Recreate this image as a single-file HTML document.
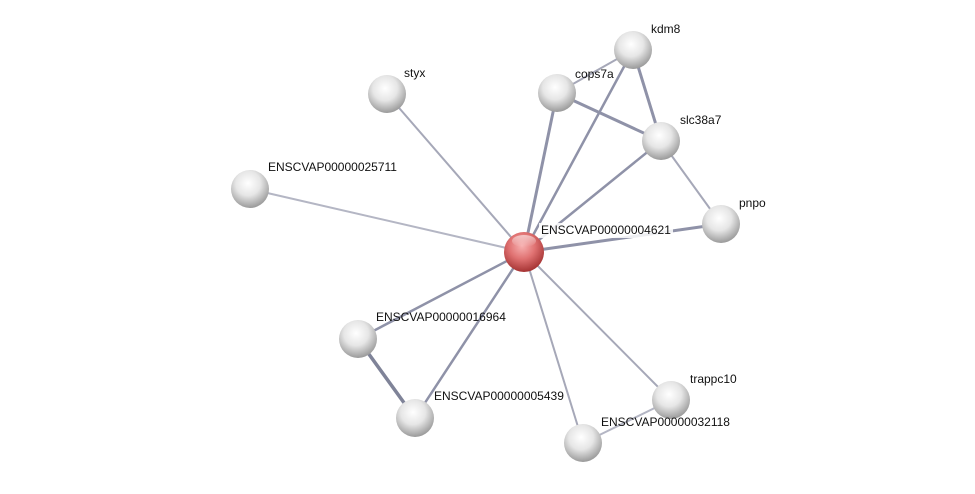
<!DOCTYPE html>
<html><head><meta charset="utf-8"><style>
html,body{margin:0;padding:0;background:#fff;}
svg text{font-family:"Liberation Sans",sans-serif;font-size:12px;fill:#111;}
</style></head><body>
<svg width="975" height="489" viewBox="0 0 975 489" xmlns="http://www.w3.org/2000/svg">
<defs>
<radialGradient id="w" cx="45%" cy="35%" r="65%">
<stop offset="0" stop-color="#ffffff"/><stop offset="0.5" stop-color="#e6e6e6"/><stop offset="1" stop-color="#9a9a9a"/>
</radialGradient>
<radialGradient id="r" cx="45%" cy="35%" r="65%">
<stop offset="0" stop-color="#f7b0b0"/><stop offset="0.5" stop-color="#e07272"/><stop offset="1" stop-color="#a53333"/>
</radialGradient>
<linearGradient id="hl" x1="0" y1="0" x2="0" y2="1">
<stop offset="0" stop-color="#fff" stop-opacity="0.95"/><stop offset="1" stop-color="#fff" stop-opacity="0"/>
</linearGradient>
</defs>
<g stroke="#8f92a8" fill="none" stroke-linecap="round">
<line x1="524" y1="252" x2="387" y2="94" stroke-width="2" stroke="#a6a8b8"/>
<line x1="524" y1="252" x2="250" y2="189" stroke-width="2" stroke="#b4b6c4"/>
<line x1="524" y1="252" x2="557" y2="93" stroke-width="3"/>
<line x1="524" y1="252" x2="633" y2="50" stroke-width="2.5"/>
<line x1="524" y1="252" x2="661" y2="141" stroke-width="2.5"/>
<line x1="524" y1="252" x2="721" y2="224" stroke-width="3"/>
<line x1="524" y1="252" x2="358" y2="339" stroke-width="2.5"/>
<line x1="524" y1="252" x2="415" y2="418" stroke-width="2.5"/>
<line x1="524" y1="252" x2="583" y2="443" stroke-width="2" stroke="#a6a8b8"/>
<line x1="524" y1="252" x2="671" y2="400" stroke-width="2" stroke="#a6a8b8"/>
<line x1="557" y1="93" x2="633" y2="50" stroke-width="2" stroke="#a6a8b8"/>
<line x1="633" y1="50" x2="661" y2="141" stroke-width="3"/>
<line x1="557" y1="93" x2="661" y2="141" stroke-width="3"/>
<line x1="661" y1="141" x2="721" y2="224" stroke-width="2" stroke="#a6a8b8"/>
<line x1="358" y1="339" x2="415" y2="418" stroke-width="3.5" stroke="#7f8398"/>
<line x1="671" y1="400" x2="583" y2="443" stroke-width="2" stroke="#b4b6c4"/>
</g>
<g>
<circle cx="387" cy="94" r="19" fill="url(#w)"/>
<circle cx="250" cy="189" r="19" fill="url(#w)"/>
<circle cx="557" cy="93" r="19" fill="url(#w)"/>
<circle cx="633" cy="50" r="19" fill="url(#w)"/>
<circle cx="661" cy="141" r="19" fill="url(#w)"/>
<circle cx="721" cy="224" r="19" fill="url(#w)"/>
<circle cx="358" cy="339" r="19" fill="url(#w)"/>
<circle cx="415" cy="418" r="19" fill="url(#w)"/>
<circle cx="671" cy="400" r="19" fill="url(#w)"/>
<circle cx="583" cy="443" r="19" fill="url(#w)"/>
<circle cx="524" cy="252" r="20" fill="url(#r)"/>
<ellipse cx="524" cy="241" rx="12" ry="6" fill="url(#hl)" opacity="0.6"/>
</g>
<rect x="539" y="223" width="134" height="15" fill="#fff" opacity="0.85"/>
<text x="404" y="77">styx</text>
<text x="268" y="171">ENSCVAP00000025711</text>
<text x="575" y="78">cops7a</text>
<text x="651" y="33">kdm8</text>
<text x="680" y="124">slc38a7</text>
<text x="739" y="207">pnpo</text>
<text x="541" y="234">ENSCVAP00000004621</text>
<text x="376" y="321">ENSCVAP00000016964</text>
<text x="434" y="400">ENSCVAP00000005439</text>
<text x="690" y="383">trappc10</text>
<text x="601" y="426">ENSCVAP00000032118</text>
</svg>
</body></html>
